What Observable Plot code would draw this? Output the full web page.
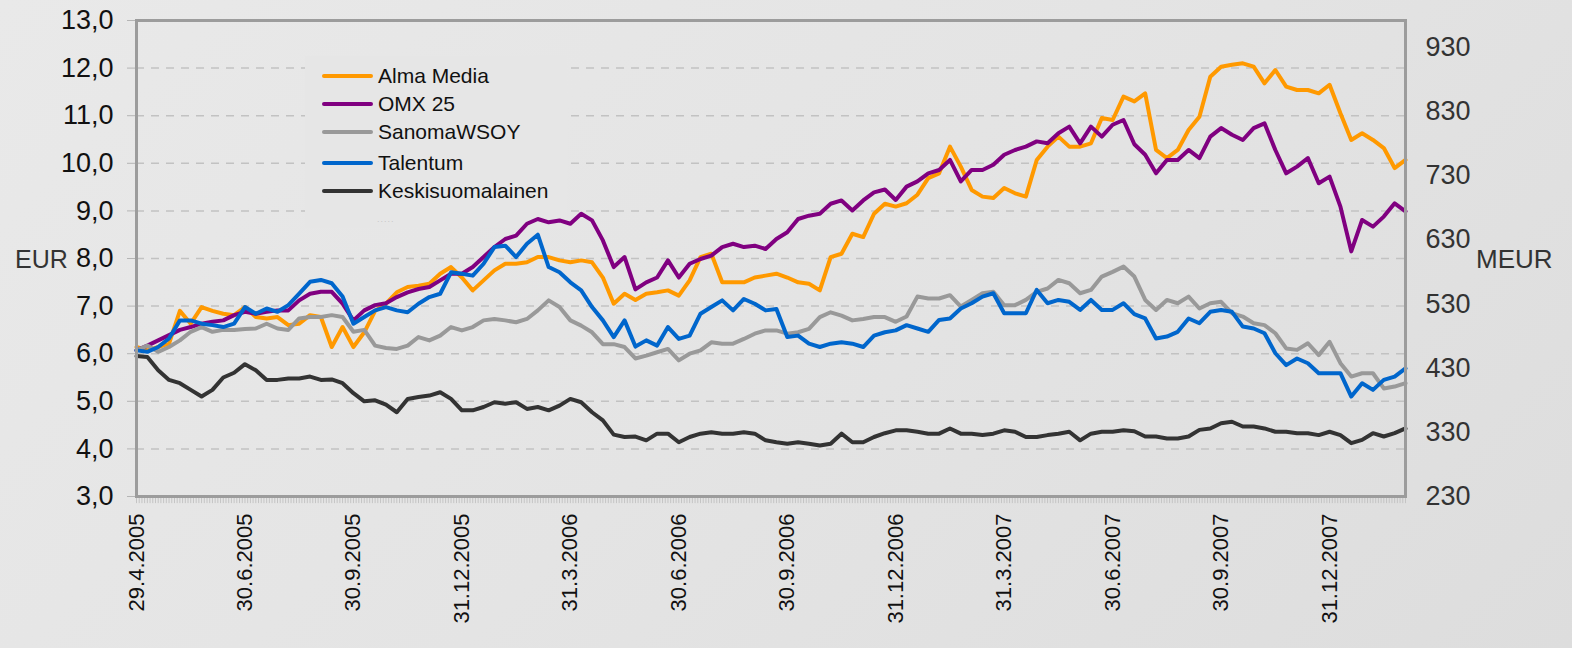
<!DOCTYPE html>
<html>
<head>
<meta charset="utf-8">
<script src="https://cdn.jsdelivr.net/npm/d3@7"></script>
<script src="https://cdn.jsdelivr.net/npm/@observablehq/plot@0.6"></script>
<style>
  html, body { margin: 0; padding: 0; }
  body { width: 1572px; height: 648px; overflow: hidden;
         background: linear-gradient(135deg, #e9e9e9 0%, #e4e4e4 50%, #dddddd 100%);
         font-family: "Liberation Sans", Arial, sans-serif; }
  #wrap { position: relative; width: 1572px; height: 648px; }
  #legend { position: absolute; left: 305px; top: 56px; width: 262px; height: 172px; }
  .entry { position: absolute; left: 0; height: 30px; }
  .sw { position: absolute; left: 17px; width: 51px; height: 4px; border-radius: 2px; }
  .lbl { position: absolute; left: 73px; font-size: 21px; color: #111; white-space: nowrap; line-height: 1; }
  .lab { position: absolute; font-size: 25px; color: #333; }
</style>
</head>
<body>
<div id="wrap">
  <div id="chart"></div>
  <div id="legend"></div>
  <div class="lab" style="left:15px; top:245px;">EUR</div>
  <div class="lab" style="left:1476px; top:244px; font-size:26px;">MEUR</div>
</div>
<script>
// Series names and colours
const seriesNames = ["Alma Media", "OMX 25", "SanomaWSOY", "Talentum", "Keskisuomalainen"];
const seriesColors = ["#ff9900", "#800080", "#999999", "#0066cc", "#333333"];

// X-axis tick labels (quarter ends)
const xLabels = ["29.4.2005", "30.6.2005", "30.9.2005", "31.12.2005", "31.3.2006", "30.6.2006",
                 "30.9.2006", "31.12.2006", "31.3.2007", "30.6.2007", "30.9.2007", "31.12.2007"];
// Left axis ticks (EUR) and right axis ticks (MEUR)
const leftTicks = [3, 4, 5, 6, 7, 8, 9, 10, 11, 12, 13];
const rightTicks = [230, 330, 430, 530, 630, 730, 830, 930];
const rightDomain = [230, 971.5];
const leftDomain = [3, 13];

// Values (EUR), sampled at equal steps (10 steps per quarter)
const almaMedia = [6.14,6.07,6.14,6.21,6.9,6.63,6.98,6.9,6.84,6.81,6.98,6.77,6.74,6.77,6.6,6.63,6.81,6.77,6.14,6.56,
  6.14,6.45,6.9,7.05,7.29,7.4,7.43,7.47,7.68,7.82,7.6,7.33,7.54,7.75,7.89,7.89,7.92,8.03,8.03,7.96,
  7.92,7.96,7.92,7.6,7.05,7.26,7.13,7.26,7.29,7.33,7.22,7.54,8.03,8.1,7.5,7.5,7.5,7.6,7.64,7.68,
  7.6,7.5,7.47,7.33,8.03,8.1,8.52,8.45,8.94,9.15,9.09,9.16,9.34,9.69,9.79,10.35,9.93,9.44,9.3,9.27,
  9.48,9.37,9.3,10.07,10.35,10.56,10.35,10.35,10.42,10.95,10.91,11.4,11.3,11.47,10.28,10.11,10.28,10.7,10.98,11.82,
  12.03,12.07,12.1,12.03,11.68,11.96,11.61,11.54,11.54,11.47,11.65,11.05,10.49,10.63,10.49,10.32,9.9,10.07];
const omx25 = [6.07,6.17,6.28,6.39,6.5,6.56,6.63,6.67,6.7,6.81,6.88,6.84,6.88,6.91,6.91,7.12,7.26,7.3,7.3,7.05,
  6.7,6.91,7.02,7.06,7.19,7.29,7.36,7.4,7.54,7.68,7.68,7.82,8.03,8.24,8.41,8.48,8.73,8.83,8.76,8.8,
  8.73,8.94,8.8,8.38,7.82,8.03,7.35,7.5,7.6,7.96,7.6,7.89,7.99,8.06,8.24,8.31,8.24,8.27,8.2,8.41,
  8.55,8.83,8.9,8.94,9.15,9.22,9.01,9.22,9.39,9.45,9.23,9.51,9.62,9.79,9.86,10.07,9.62,9.86,9.86,9.97,
  10.18,10.28,10.35,10.46,10.42,10.63,10.77,10.42,10.77,10.56,10.81,10.91,10.4,10.18,9.79,10.07,10.07,10.28,10.11,10.56,
  10.74,10.6,10.49,10.74,10.84,10.28,9.79,9.93,10.11,9.58,9.72,9.09,8.15,8.81,8.67,8.88,9.16,8.99];
const sanomaWSOY = [6.07,6.17,6.04,6.14,6.28,6.46,6.56,6.46,6.5,6.5,6.52,6.53,6.63,6.53,6.5,6.74,6.77,6.77,6.81,6.77,
  6.46,6.5,6.17,6.12,6.1,6.17,6.35,6.28,6.38,6.56,6.49,6.56,6.7,6.73,6.7,6.66,6.73,6.91,7.12,6.98,
  6.7,6.59,6.45,6.2,6.2,6.14,5.9,5.96,6.03,6.1,5.86,6.0,6.07,6.24,6.21,6.21,6.31,6.42,6.49,6.49,
  6.42,6.45,6.52,6.77,6.87,6.8,6.7,6.73,6.77,6.77,6.67,6.78,7.2,7.16,7.16,7.23,6.99,7.13,7.27,7.3,
  7.02,7.02,7.13,7.3,7.37,7.55,7.48,7.27,7.34,7.62,7.72,7.83,7.62,7.13,6.92,7.13,7.06,7.2,6.95,7.06,
  7.09,6.85,6.78,6.64,6.6,6.43,6.11,6.08,6.22,5.97,6.25,5.8,5.52,5.59,5.59,5.27,5.31,5.38];
const talentum = [6.07,6.04,6.14,6.32,6.7,6.7,6.63,6.6,6.56,6.63,6.98,6.84,6.95,6.88,7.02,7.26,7.51,7.55,7.48,7.2,
  6.63,6.77,6.91,6.98,6.91,6.87,7.05,7.19,7.26,7.71,7.68,7.64,7.89,8.24,8.27,8.03,8.31,8.5,7.82,7.71,
  7.5,7.33,6.98,6.7,6.35,6.7,6.15,6.28,6.17,6.56,6.31,6.38,6.84,6.98,7.12,6.91,7.15,7.05,6.91,6.94,
  6.35,6.38,6.21,6.14,6.21,6.24,6.21,6.14,6.38,6.45,6.49,6.6,6.53,6.46,6.71,6.74,6.95,7.06,7.2,7.27,
  6.85,6.85,6.85,7.34,7.06,7.13,7.09,6.92,7.13,6.92,6.92,7.06,6.83,6.74,6.32,6.36,6.46,6.74,6.64,6.88,
  6.92,6.88,6.57,6.53,6.43,6.01,5.76,5.9,5.8,5.59,5.59,5.59,5.1,5.38,5.24,5.45,5.52,5.69];
const keskisuomalainen = [5.95,5.93,5.65,5.45,5.38,5.24,5.1,5.24,5.5,5.6,5.78,5.65,5.45,5.45,5.48,5.48,5.52,5.45,5.46,5.38,
  5.17,5.0,5.02,4.93,4.77,5.05,5.09,5.12,5.19,5.05,4.81,4.81,4.88,4.98,4.95,4.98,4.84,4.88,4.81,4.91,
  5.05,4.98,4.77,4.6,4.3,4.25,4.26,4.18,4.32,4.32,4.14,4.25,4.32,4.35,4.32,4.32,4.35,4.32,4.18,4.14,
  4.11,4.14,4.11,4.07,4.11,4.32,4.14,4.14,4.25,4.33,4.39,4.39,4.36,4.32,4.32,4.43,4.32,4.32,4.29,4.32,
  4.39,4.36,4.25,4.25,4.29,4.32,4.36,4.18,4.32,4.36,4.36,4.39,4.37,4.26,4.26,4.22,4.22,4.26,4.4,4.43,
  4.54,4.57,4.47,4.47,4.43,4.36,4.36,4.33,4.33,4.29,4.36,4.29,4.12,4.19,4.33,4.26,4.33,4.43];

const allSeries = [almaMedia, omx25, sanomaWSOY, talentum, keskisuomalainen];
const stepsPerQuarter = 10;
const lastIndex = almaMedia.length - 1;

const toLeft = v => leftDomain[0] + (v - rightDomain[0]) / (rightDomain[1] - rightDomain[0]) * (leftDomain[1] - leftDomain[0]);
const fromLeft = e => rightDomain[0] + (e - leftDomain[0]) / (leftDomain[1] - leftDomain[0]) * (rightDomain[1] - rightDomain[0]);

const lineMarks = allSeries.map((vals, k) =>
  Plot.lineY(vals, {x: (d, i) => i, y: d => d, stroke: seriesColors[k], strokeWidth: 4,
                    strokeLinejoin: "round", strokeLinecap: "round"}));

const chart = Plot.plot({
  width: 1572,
  height: 648,
  marginLeft: 136,
  marginRight: 167,
  marginTop: 20,
  marginBottom: 152,
  style: {background: "transparent", fontFamily: "'Liberation Sans', Arial, sans-serif", overflow: "visible"},
  x: {type: "linear", domain: [0, lastIndex], axis: null},
  y: {type: "linear", domain: leftDomain, axis: null},
  marks: [
    Plot.gridY(leftTicks.slice(1, -1), {stroke: "#c2c2c2", strokeOpacity: 1, strokeWidth: 1.5, strokeDasharray: "8,7", className: "grid-lines"}),
    Plot.ruleX(d3.range(0, lastIndex + 0.001, 0.25), {y1: leftDomain[0], y2: leftDomain[0] - 0.15, stroke: "#c4c4c4", strokeWidth: 1}),
    Plot.axisY(leftTicks, {anchor: "left", tickSize: 9, tickPadding: 14, stroke: "#b5b5b5", fill: "#111",
      fontSize: 27, tickFormat: d => d.toFixed(1).replace(".", ","), label: null}),
    Plot.axisY(rightTicks.map(toLeft), {anchor: "right", tickSize: 0, tickPadding: 20, fill: "#333",
      fontSize: 27, tickFormat: d => String(Math.round(fromLeft(d))), label: null}),
    Plot.axisX(xLabels.map((_, i) => i * stepsPerQuarter), {anchor: "bottom", tickSize: 0, tickPadding: 17,
      tickRotate: -90, fontSize: 22, fill: "#111", tickFormat: (d) => xLabels[Math.round(d / stepsPerQuarter)], label: null}),
    ...lineMarks,
    Plot.frame({stroke: "#9c9c9c", strokeWidth: 3})
  ]
});
document.getElementById("chart").appendChild(chart);

// Legend box background: sits above the gridlines but below the data lines
const gridGroup = chart.querySelector("g.grid-lines") || chart.querySelector("g[aria-label='grid']");
if (gridGroup) {
  const bg = document.createElementNS("http://www.w3.org/2000/svg", "rect");
  bg.setAttribute("x", 305); bg.setAttribute("y", 56);
  bg.setAttribute("width", 262); bg.setAttribute("height", 172);
  bg.setAttribute("fill", "#e6e6e6");
  gridGroup.parentNode.insertBefore(bg, gridGroup.nextSibling);
}

// Legend entries
const legendY = [20, 48, 76, 107, 135];
const legend = document.getElementById("legend");
seriesNames.forEach((name, k) => {
  const e = document.createElement("div");
  e.className = "entry";
  e.style.top = (legendY[k] - 15) + "px";
  e.innerHTML = `<div class="sw" style="top:13px;background:${seriesColors[k]}"></div>` +
                `<div class="lbl" style="top:4px">${name}</div>`;
  legend.appendChild(e);
});
const dots = document.createElement("div");
dots.style.cssText = "position:absolute;left:72px;top:158px;font-size:9px;color:#c8c8c8;letter-spacing:1px;";
dots.textContent = ".....";
legend.appendChild(dots);
</script>
</body>
</html>
